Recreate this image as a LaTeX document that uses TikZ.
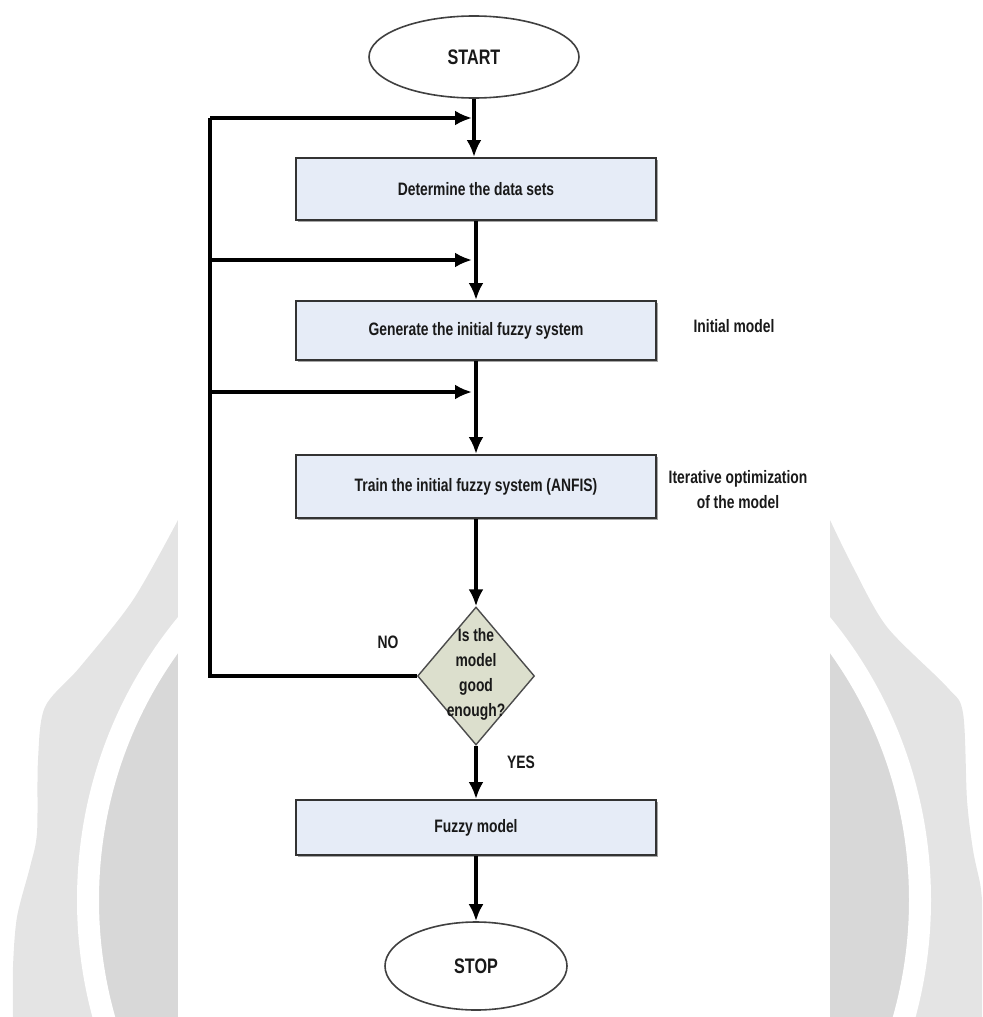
\documentclass[tikz,border=0pt]{standalone}
\usepackage{fontspec}
\setmainfont[FakeStretch=0.77]{Liberation Sans}
\usetikzlibrary{shapes.geometric,arrows.meta,shadows}
\definecolor{boxblue}{RGB}{230,236,247}
\definecolor{decfill}{RGB}{220,223,205}
\definecolor{wmlight}{RGB}{228,228,228}
\definecolor{wmdark}{RGB}{216,216,216}
\definecolor{inkc}{RGB}{25,25,25}
\tikzset{
  proc/.style={rectangle, draw=black!80, line width=1pt, fill=boxblue,
    minimum width=180pt, inner sep=0pt, text=inkc,
    font=\bfseries\fontsize{9}{11}\selectfont,
    drop shadow={shadow xshift=0.8pt, shadow yshift=-0.8pt, fill=black!35, opacity=1}},
  term/.style={ellipse, draw=black!75, line width=0.8pt, fill=white,
    inner sep=0pt, text=inkc, font=\bfseries\fontsize{10.5}{12}\selectfont},
  decision/.style={diamond, draw=black!70, line width=0.7pt, fill=decfill,
    minimum width=58.5pt, minimum height=69pt, inner sep=0pt},
  dectext/.style={align=center, text=inkc, inner sep=0pt,
    font=\bfseries\fontsize{9}{12.5}\selectfont},
  note/.style={align=center, text=inkc, inner sep=0pt,
    font=\bfseries\fontsize{9}{12.5}\selectfont},
  flow/.style={line width=1.7pt, draw=black, -{Latex[length=8.5pt,width=7.5pt]}},
  link/.style={line width=2pt, draw=black, line join=miter},
}
\begin{document}
\begin{tikzpicture}[x=0.5pt,y=-0.5pt]
\useasboundingbox (0,0) rectangle (982,1017);
% watermark background
\begin{scope}
\clip (0,0) rectangle (982,1017);
\fill[wmlight] plot[smooth] coordinates {(178,520) (133,600) (80,667) (45,707) (38,760) (37,833) (30,867) (17,917) (13,967) (13,1017)} -- (178,1017) -- cycle;
\fill[wmlight] plot[smooth] coordinates {(830,520) (853,567) (887,627) (947,687) (963,713) (967,800) (973,850) (980,883) (982,900)} -- (982,1017) -- (830,1017) -- cycle;
\fill[wmdark] (504,900) ellipse [x radius=208pt, y radius=213.5pt];
\draw[white, line width=11pt] (504,900) ellipse [x radius=208pt, y radius=213.5pt];
\fill[white] (178,0) rectangle (830,1017);
\end{scope}

% nodes
\node[term, minimum width=105pt, minimum height=41pt] (start) at (474,57) {START};
\node[proc, minimum height=31pt] (b1) at (476,189) {Determine the data sets};
\node[proc, minimum height=29.5pt] (b2) at (476,330.5) {Generate the initial fuzzy system};
\node[proc, minimum height=31.5pt] (b3) at (476,486.5) {Train the initial fuzzy system (ANFIS)};
\node[decision] (dec) at (476,676) {};
\node[dectext] (dect) at (476,674) {Is the\\model\\good\\enough?};
\node[proc, minimum height=27.5pt] (fm) at (476,827.5) {Fuzzy model};
\node[term, minimum width=91pt, minimum height=44pt] (stop) at (476,966) {STOP};

\node[note] (n1) at (734,326) {Initial model};
\node[note] (n2) at (738,490) {Iterative optimization\\of the model};
\node[note] (no) at (388,642) {NO};
\node[note] (yes) at (521,762) {YES};

% junction coordinates
\coordinate (f1) at (210,118);
\coordinate (f2) at (210,260);
\coordinate (f3) at (210,392);
\coordinate (m1) at (472,118);
\coordinate (m2) at (472,260);
\coordinate (m3) at (472,392);

% connectors
\draw[flow] (start.south) -- (start.south |- b1.north);
\draw[flow] (b1.south) -- (b2.north);
\draw[flow] (b2.south) -- (b3.north);
\draw[flow] (b3.south) -- (dec.north);
\draw[flow] (dec.south) -- (fm.north);
\draw[flow] (fm.south) -- (stop.north);
\draw[link] (dec.west) -| (f1);
\draw[flow] (f1) -- (m1);
\draw[flow] (f2) -- (m2);
\draw[flow] (f3) -- (m3);
\end{tikzpicture}
\end{document}
